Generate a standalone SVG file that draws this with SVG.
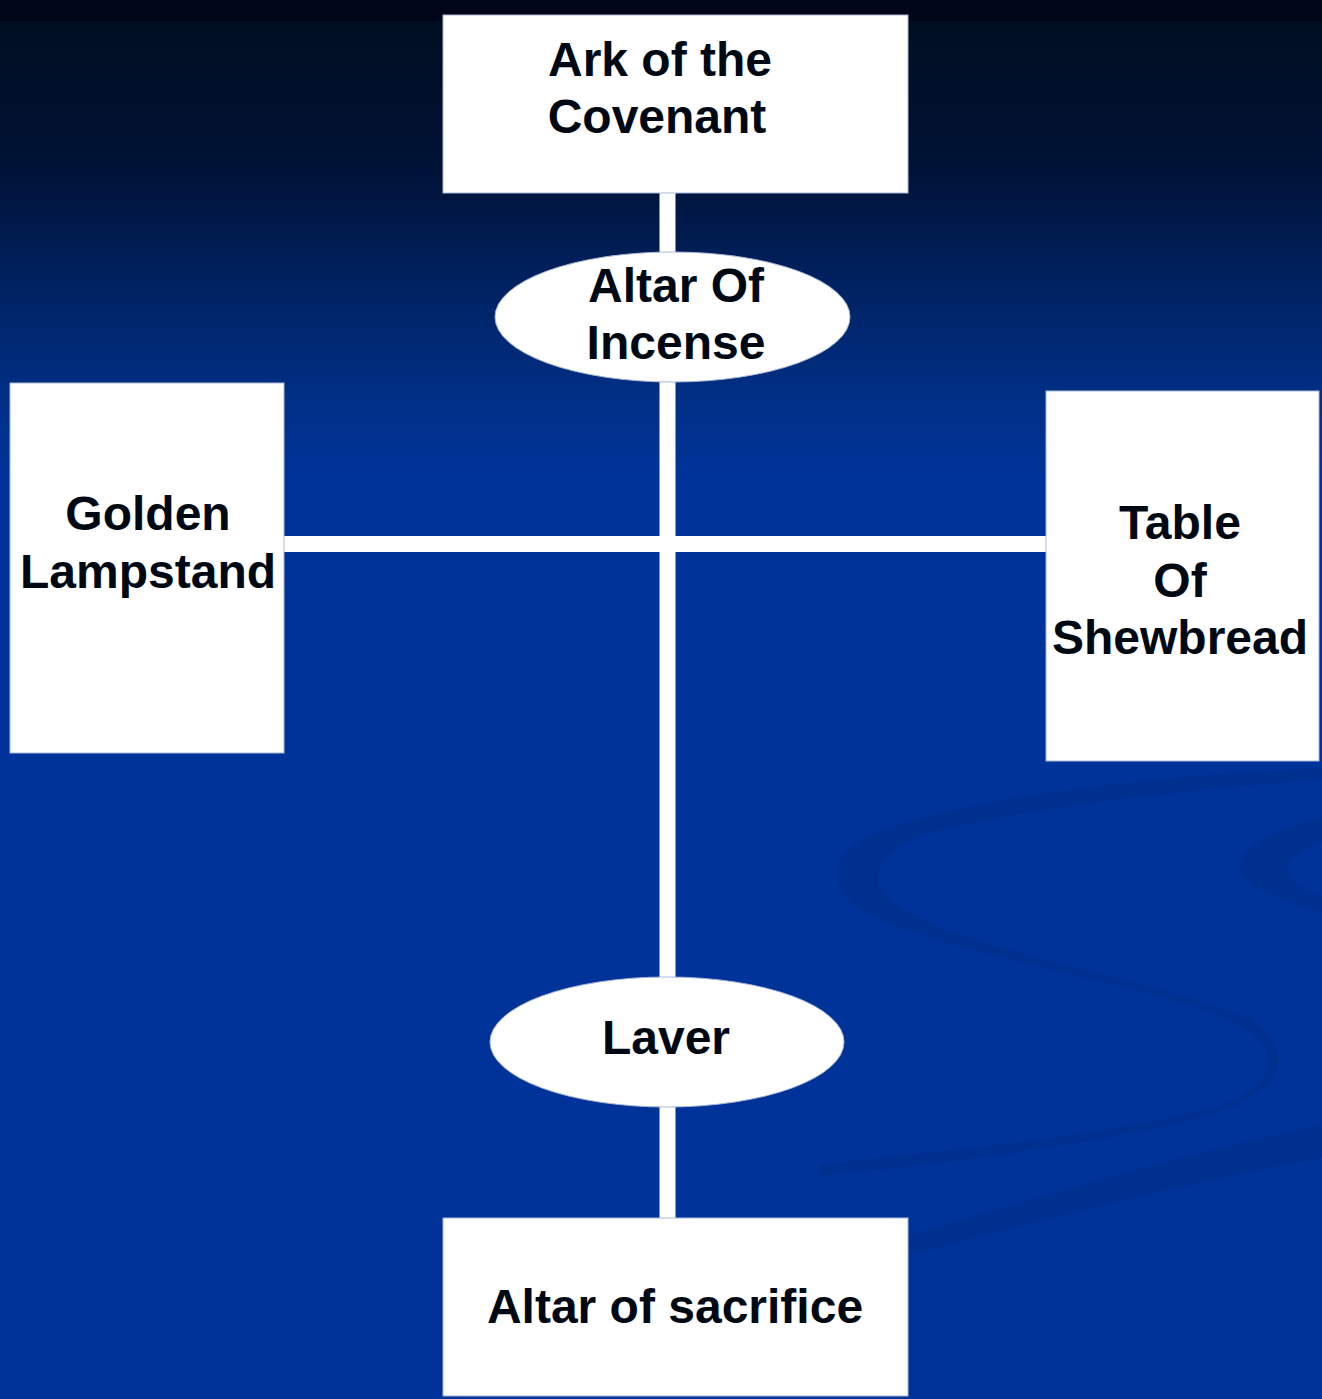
<svg xmlns="http://www.w3.org/2000/svg" width="1322" height="1399" viewBox="0 0 1322 1399">
  <defs>
    <linearGradient id="bg" x1="0" y1="0" x2="0" y2="1399" gradientUnits="userSpaceOnUse">
      <stop offset="0" stop-color="#000e1e"/>
      <stop offset="0.12" stop-color="#001236"/>
      <stop offset="0.2" stop-color="#00215f"/>
      <stop offset="0.29" stop-color="#003088"/>
      <stop offset="0.34" stop-color="#003399"/>
      <stop offset="1" stop-color="#003399"/>
    </linearGradient>
    <style>
      .box { fill: #ffffff; stroke: #a9b8d8; stroke-width: 1; }
      .lbl { font-family: "Liberation Sans", Arial, sans-serif; font-weight: bold; font-size: 48px; fill: #000814; text-anchor: middle; }
      .conn { stroke: #ffffff; stroke-width: 16; fill: none; }
      .swirl { fill: #00308f; }
    </style>
  </defs>

  <rect x="0" y="0" width="1322" height="1399" fill="url(#bg)"/>
  <rect x="0" y="0" width="1322" height="21" fill="#000518"/>

  <g id="background-swirls">
    <path class="swirl" d="M1322,768 C1150,775 950,800 870,835 C820,860 830,895 870,915 C950,955 1150,985 1230,1020 C1290,1050 1275,1085 1220,1105 C1100,1140 930,1150 820,1165 L820,1175 C950,1165 1120,1140 1210,1115 C1285,1092 1300,1050 1250,1020 C1180,985 960,950 895,905 C860,880 880,845 950,828 C1050,805 1200,788 1322,780 Z"/>
    <path class="swirl" d="M1322,817 C1270,830 1235,850 1240,870 C1250,890 1290,905 1322,912 L1322,896 C1295,888 1282,875 1290,862 C1298,850 1312,845 1322,842 Z"/>
    <path class="swirl" d="M1322,1125 C1200,1150 1060,1190 910,1235 L910,1255 C1060,1215 1200,1180 1322,1158 Z"/>
  </g>

  <g id="connectors">
    <line class="conn" x1="667.5" y1="193" x2="667.5" y2="1218"/>
    <line class="conn" x1="284" y1="544" x2="1046" y2="544"/>
  </g>

  <g id="ark-of-the-covenant">
    <rect class="box" x="443" y="15" width="465" height="178"/>
    <text class="lbl" x="660" y="76">Ark of the</text>
    <text class="lbl" x="657" y="133">Covenant</text>
  </g>

  <g id="altar-of-incense">
    <ellipse class="box" cx="672.5" cy="317" rx="177.5" ry="65"/>
    <text class="lbl" x="676" y="302">Altar Of</text>
    <text class="lbl" x="676" y="359">Incense</text>
  </g>

  <g id="golden-lampstand">
    <rect class="box" x="10" y="383" width="274" height="370"/>
    <text class="lbl" x="148" y="530">Golden</text>
    <text class="lbl" x="148" y="588">Lampstand</text>
  </g>

  <g id="table-of-shewbread">
    <rect class="box" x="1046" y="391" width="273" height="370"/>
    <text class="lbl" x="1180" y="539">Table</text>
    <text class="lbl" x="1180" y="597">Of</text>
    <text class="lbl" x="1180" y="654">Shewbread</text>
  </g>

  <g id="laver">
    <ellipse class="box" cx="667" cy="1042" rx="177" ry="65"/>
    <text class="lbl" x="666" y="1054">Laver</text>
  </g>

  <g id="altar-of-sacrifice">
    <rect class="box" x="443" y="1218" width="465" height="178"/>
    <text class="lbl" x="675" y="1323">Altar of sacrifice</text>
  </g>
</svg>
